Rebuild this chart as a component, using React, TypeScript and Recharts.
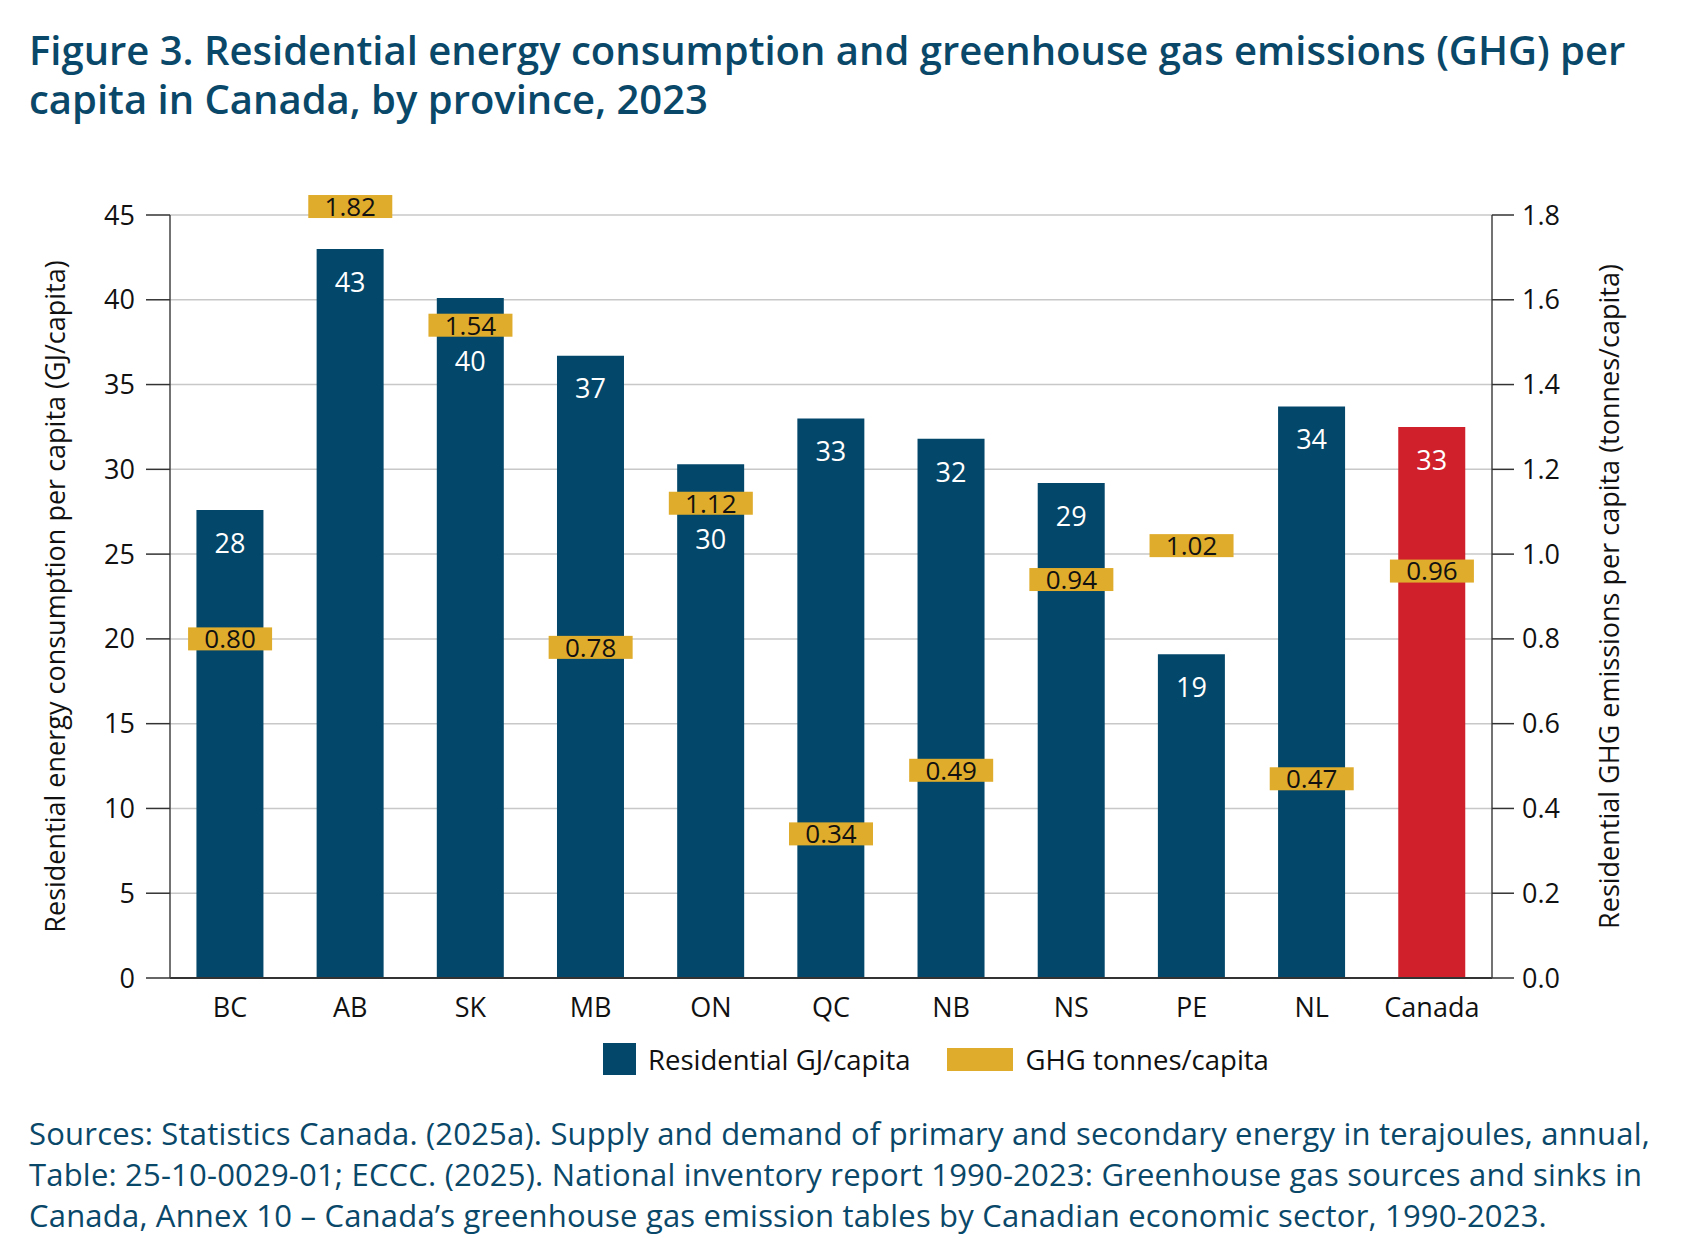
import React from 'react';
import {
  Bar,
  CartesianGrid,
  Cell,
  ComposedChart,
  LabelList,
  Scatter,
  XAxis,
  YAxis,
} from 'recharts';

const PROVINCES = ['BC', 'AB', 'SK', 'MB', 'ON', 'QC', 'NB', 'NS', 'PE', 'NL', 'Canada'];
const ENERGY_GJ = [27.6, 43.0, 40.1, 36.7, 30.3, 33.0, 31.8, 29.2, 19.1, 33.7, 32.5];
const GHG_TONNES = [0.8, 1.82, 1.54, 0.78, 1.12, 0.34, 0.49, 0.94, 1.02, 0.47, 0.96];
const LEFT_TICKS = [0, 5, 10, 15, 20, 25, 30, 35, 40, 45];
const RIGHT_TICKS = [0, 0.2, 0.4, 0.6, 0.8, 1.0, 1.2, 1.4, 1.6, 1.8];

const LEFT_MAX = 45;
const RIGHT_MAX = 1.8;

const NAVY = '#03476a';
const RED = '#cf202b';
const GOLD = '#e0ac2b';
const TEXT_BLUE = '#0a4869';
const FONT = '"Open Sans", Lato, sans-serif';

const data = PROVINCES.map((p, i) => ({
  province: p,
  energy: ENERGY_GJ[i],
  ghg: GHG_TONNES[i],
}));

function BarValueLabel(props: any) {
  const x = Number(props.x);
  const y = Number(props.y);
  const width = Number(props.width);
  const height = Number(props.height);
  const value = Number(props.value);
  const index = props.index as number;
  // where the GHG marker sits on this bar, via the bar's own scale
  const pxPerUnit = height / value;
  const bottom = y + height;
  const ghgY = bottom - GHG_TONNES[index] * (LEFT_MAX / RIGHT_MAX) * pxPerUnit;
  let cy = y + 33;
  if (Math.abs(cy - ghgY) < 30) cy = ghgY + 36;
  return (
    <text
      x={x + width / 2}
      y={cy}
      dy="0.36em"
      textAnchor="middle"
      fill="#ffffff"
      fontSize={27}
      fontFamily={FONT}
    >
      {Math.round(value)}
    </text>
  );
}

function GhgMarker(props: any) {
  const { cx, cy, payload } = props;
  return (
    <g>
      <rect x={cx - 42} y={cy - 11.5} width={84} height={23} fill={GOLD} />
      <text
        x={cx}
        y={cy}
        dy="0.36em"
        textAnchor="middle"
        fill="#111111"
        fontSize={26}
        fontFamily={FONT}
      >
        {payload.ghg.toFixed(2)}
      </text>
    </g>
  );
}

function AxisTitle({ viewBox, posX, text }: any) {
  const cy = viewBox.y + viewBox.height / 2;
  return (
    <text
      x={posX}
      y={cy}
      transform={`rotate(-90, ${posX}, ${cy})`}
      textAnchor="middle"
      dominantBaseline="central"
      fontSize={27}
      fill="#111111"
      fontFamily={FONT}
    >
      {text}
    </text>
  );
}

export default function App() {
  return (
    <div style={{ position: 'relative', width: 1681, height: 1257, background: '#fff', fontFamily: FONT }}>
      <style>{'body{margin:0;} .recharts-scatter{clip-path:none !important;}'}</style>
      <div
        style={{
          position: 'absolute',
          left: 29,
          top: 25,
          fontSize: 40,
          lineHeight: '49px',
          fontWeight: 600,
          color: TEXT_BLUE,
          whiteSpace: 'nowrap',
        }}
      >
        Figure 3. Residential energy consumption and greenhouse gas emissions (GHG) per
        <br />
        capita in Canada, by province, 2023
      </div>

      <div style={{ position: 'absolute', left: 0, top: 0 }}>
        <ComposedChart
          width={1681}
          height={1257}
          data={data}
          margin={{ top: 215, right: 0, bottom: 219, left: 0 }}
          barCategoryGap="22%"
        >
          <CartesianGrid vertical={false} stroke="#c8c8c8" strokeWidth={1.5} yAxisId="left" />
          <XAxis
            dataKey="province"
            tickLine={false}
            tickSize={0}
            tickMargin={20}
            height={60}
            axisLine={{ stroke: '#333', strokeWidth: 2 }}
            tick={{ fontSize: 27, fill: '#111', fontFamily: FONT }}
            interval={0}
          />
          <YAxis
            yAxisId="left"
            orientation="left"
            width={170}
            domain={[0, LEFT_MAX]}
            ticks={LEFT_TICKS}
            allowDataOverflow
            tickSize={24}
            tickMargin={11}
            axisLine={{ stroke: '#444', strokeWidth: 1.5 }}
            tickLine={{ stroke: '#333', strokeWidth: 1.5 }}
            tick={{ fontSize: 27, fill: '#111', fontFamily: FONT }}
            label={<AxisTitle posX={54} text="Residential energy consumption per capita (GJ/capita)" />}
          />
          <YAxis
            yAxisId="right"
            orientation="right"
            width={189}
            domain={[0, RIGHT_MAX]}
            ticks={RIGHT_TICKS}
            allowDataOverflow
            tickFormatter={(v: number) => v.toFixed(1)}
            tickSize={22}
            tickMargin={8}
            axisLine={{ stroke: '#444', strokeWidth: 1.5 }}
            tickLine={{ stroke: '#333', strokeWidth: 1.5 }}
            tick={{ fontSize: 27, fill: '#111', fontFamily: FONT }}
            label={<AxisTitle posX={1608} text="Residential GHG emissions per capita (tonnes/capita)" />}
          />
          <Bar yAxisId="left" dataKey="energy" isAnimationActive={false}>
            {data.map((d) => (
              <Cell key={d.province} fill={d.province === 'Canada' ? RED : NAVY} />
            ))}
            <LabelList dataKey="energy" content={<BarValueLabel />} />
          </Bar>
          <Scatter
            yAxisId="right"
            dataKey="ghg"
            shape={<GhgMarker />}
            isAnimationActive={false}
          />
        </ComposedChart>
      </div>

      {/* legend */}
      <div style={{ position: 'absolute', left: 603, top: 1043, display: 'flex', alignItems: 'center', fontSize: 27.5, color: '#111', height: 32 }}>
        <div style={{ width: 33, height: 32, background: NAVY }} />
        <span style={{ marginLeft: 12 }}>Residential GJ/capita</span>
        <div style={{ width: 66, height: 23, background: GOLD, marginLeft: 37 }} />
        <span style={{ marginLeft: 12 }}>GHG tonnes/capita</span>
      </div>

      <div
        style={{
          position: 'absolute',
          left: 29,
          top: 1113,
          fontSize: 31,
          lineHeight: '41px',
          letterSpacing: 0.2,
          color: TEXT_BLUE,
          whiteSpace: 'nowrap',
        }}
      >
        Sources: Statistics Canada. (2025a). Supply and demand of primary and secondary energy in terajoules, annual,
        <br />
        Table: 25-10-0029-01; ECCC. (2025). National inventory report 1990-2023: Greenhouse gas sources and sinks in
        <br />
        Canada, Annex 10 – Canada’s greenhouse gas emission tables by Canadian economic sector, 1990-2023.
      </div>
    </div>
  );
}
